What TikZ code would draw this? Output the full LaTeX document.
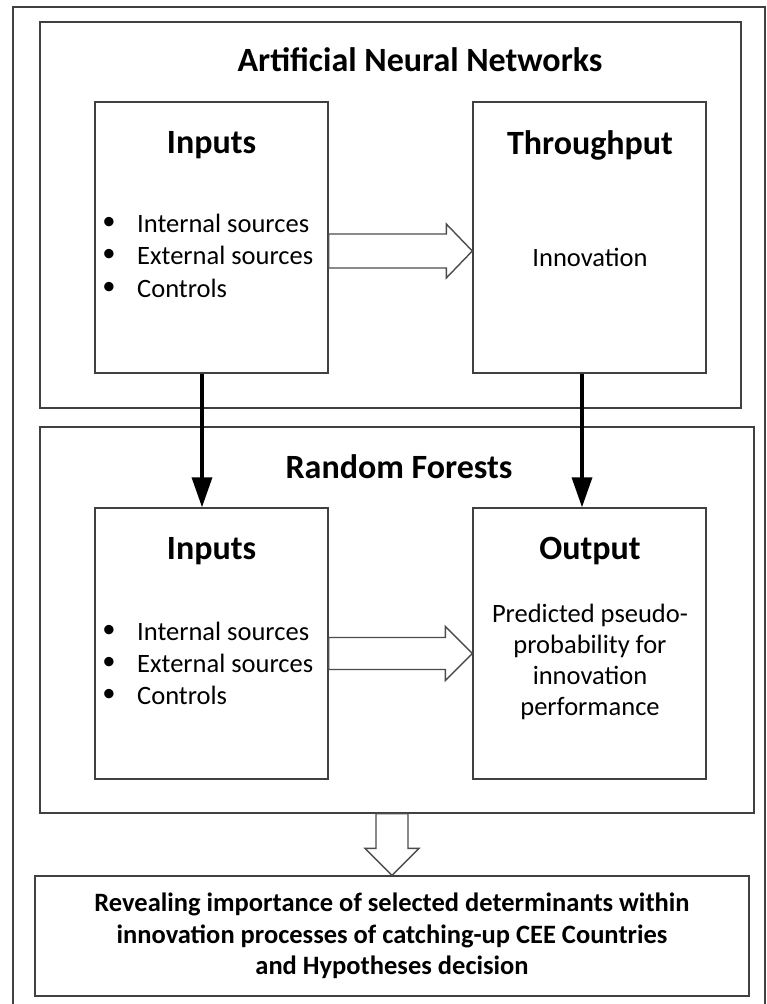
\documentclass[tikz,border=0pt]{standalone}
\usepackage{fontspec}
\setmainfont{Carlito}
\usetikzlibrary{arrows.meta}
\usetikzlibrary{calc}

\tikzset{
  frame/.style={draw=black!75, line width=1.3pt},
  box/.style={draw=black!75, line width=1.4pt, fill=white, inner sep=0pt},
  head/.style={font=\fontsize{34}{40}\selectfont\bfseries},
  txt/.style={font=\fontsize{26.5}{31}\selectfont},
  hollow/.style={draw=black!70, line width=1.4pt, fill=white, line join=miter},
  thickarrow/.style={line width=3.5pt, -{Triangle[width=20pt,length=30pt]}}
}

\begin{document}
\begin{tikzpicture}[x=1pt, y=-1pt]
 \useasboundingbox (0,0) rectangle (767,1004);
 \draw[frame] (13,7) rectangle (765,1030);

 %level 1
 \def\dy{0}
  \node[box, minimum width=701pt, minimum height=386pt] (ann) at (390.5, 215) {};
  \node[head] (annT) at (420, 60) {Artificial Neural Networks};

  \node[box, minimum width=233pt, minimum height=271pt] (in1) at (211.5, 237.5+\dy) {};
  \node[box, minimum width=233pt, minimum height=271pt] (thr) at (589.5, 237.5+\dy) {};
  \node[head] (in1T) at (211.5, 145+\dy) {Inputs};
  \node[head] (thrT) at (590, 145+\dy) {Throughput};

  \foreach \i/\name in {0/Internal sources, 1/External sources, 2/Controls} {
         \node[txt] (dotA\i) at (109, 223+\i*32.5+\dy) {\textbullet};
         \node[txt, anchor=west, inner sep=0pt] (itemA\i) at (137, 223+\i*32.5+\dy) {\name};
 }
  \node[txt] (innov) at (590, 257+\dy) {Innovation};

 %level 2
 \def\dy{406}
  \node[box, minimum width=714pt, minimum height=386pt] (rf) at (397, 620) {};
  \node[head] (rfT) at (399, 467) {Random Forests};

  \node[box, minimum width=233pt, minimum height=271pt] (in2) at (211.5, 237.5+\dy) {};
  \node[box, minimum width=233pt, minimum height=271pt] (out) at (589.5, 237.5+\dy) {};
  \node[head] (in2T) at (211.5, 145+\dy) {Inputs};
  \node[head] (outT) at (590, 145+\dy) {Output};

  \foreach \i/\name in {0/Internal sources, 1/External sources, 2/Controls} {
         \node[txt] (dotB\i) at (109, 225+\i*32+\dy) {\textbullet};
         \node[txt, anchor=west, inner sep=0pt] (itemB\i) at (137, 225+\i*32+\dy) {\name};
 }
  \node[txt, align=center] (outX) at (590, 662) {Predicted pseudo-\\probability for\\innovation\\performance};

 %result
  \node[box, minimum width=714pt, minimum height=120pt, align=center,
        font=\fontsize{26.5}{31.5}\selectfont\bfseries] (res) at (392, 936)
        {Revealing importance of selected determinants within\\innovation processes of catching-up CEE Countries\\and Hypotheses decision};

 %arrow
  \draw[thickarrow] ([xshift=-9.5pt]in1.south) -- ([xshift=-9.5pt]in2.north);
  \draw[thickarrow] ([xshift=-7.5pt]thr.south) -- ([xshift=-7.5pt]out.north);

  \coordinate (tipA) at ($(thr.west)+(0,13.5)$);
  \draw[hollow] (tipA) -- ++(-26,-27) -- ++(0,10) -- ($(in1.east |- tipA)+(0,-17)$)
        -- ++(0,34) -- ($(tipA)+(-26,17)$) -- ++(0,10) -- cycle;

  \coordinate (tipB) at ($(out.west)+(0,10)$);
  \draw[hollow] (tipB) -- ++(-27,-27) -- ++(0,11) -- ($(in2.east |- tipB)+(0,-16)$)
        -- ++(0,32) -- ($(tipB)+(-27,16)$) -- ++(0,11) -- cycle;

  \draw[hollow] (res.north) -- ++(-27,-27) -- ++(11,0) -- ($(rf.south -| res.north)+(-16,0)$)
        -- ++(32,0) -- ($(res.north)+(16,-27)$) -- ++(11,0) -- cycle;

\end{tikzpicture}
\end{document}
